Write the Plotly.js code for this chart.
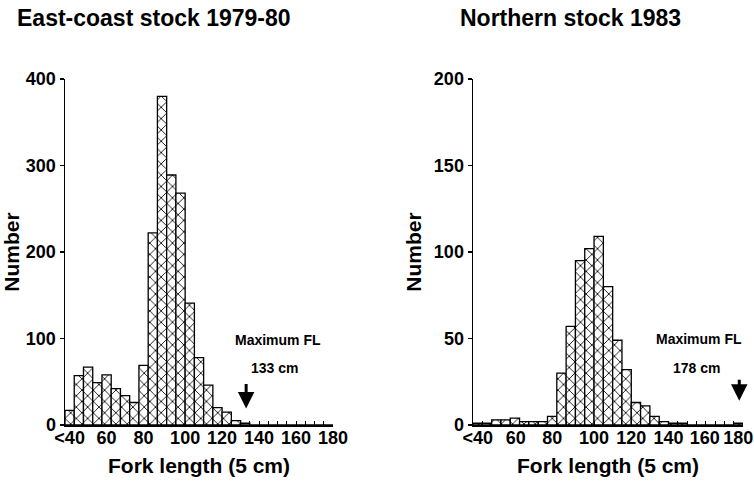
<!DOCTYPE html>
<html><head><meta charset="utf-8">
<script src="https://cdn.plot.ly/plotly-3.0.1.min.js"></script>
<style>html,body{margin:0;padding:0;background:#fff}</style>
</head><body><div id="chart" style="width:754px;height:488px"></div>
<script>
// Fork length bins (5 cm), bin centres in cm; first bin is "<40"
const binCenters = [37.5, 42.5, 47.5, 52.5, 57.5, 62.5, 67.5, 72.5, 77.5, 82.5,
  87.5, 92.5, 97.5, 102.5, 107.5, 112.5, 117.5, 122.5, 127.5, 132.5,
  137.5, 142.5, 147.5, 152.5, 157.5, 162.5, 167.5, 172.5, 177.5];

// East-coast stock 1979-80 (counts per bin)
const eastCoast = [17, 57, 67, 49, 58, 42, 34, 26, 69, 222,
  380, 289, 268, 141, 78, 46, 20, 15, 5, 2,
  0, 0, 0, 0, 0, 0, 0, 0, 0];

// Northern stock 1983 (counts per bin)
const northern = [1, 1, 3, 3, 4, 2, 2, 2, 5, 30,
  57, 95, 102, 109, 80, 49, 32, 13, 11, 5,
  2, 1, 1, 0, 0, 0, 0, 0, 1];

// tick label positions (cm) for the left and right panels
const tickValsLeft = [37.5, 57.5, 77.5, 100, 120, 140, 160, 180];
const tickValsRight = [37.5, 58, 77.5, 100, 120, 140, 159.5, 177.5];
const tickText = ['<40', '60', '80', '100', '120', '140', '160', '180'];

const titles = ['East-coast stock 1979-80', 'Northern stock 1983'];
const maxFL = [133, 178];
const maxFLText = ['133 cm', '178 cm'];

const FONT = 'Liberation Sans, Arial, Helvetica, sans-serif';
const pattern = {shape: 'x', size: 8, solidity: 0.2, fgcolor: '#000', bgcolor: '#fff', fillmode: 'replace'};

function barTrace(y, xa, ya) {
  return {type: 'bar', x: binCenters, y: y, xaxis: xa, yaxis: ya,
    width: 5, marker: {color: '#fff', pattern: pattern, line: {color: '#000', width: 1.3}},
    showlegend: false, hoverinfo: 'x+y'};
}

const data = [
  barTrace(eastCoast, 'x', 'y'),
  barTrace(northern, 'x2', 'y2'),
  {type: 'scatter', x: [], y: [], xaxis: 'x3', yaxis: 'y', showlegend: false},
  {type: 'scatter', x: [], y: [], xaxis: 'x4', yaxis: 'y2', showlegend: false}
];

const tickFont = {family: FONT, size: 18, color: '#000', weight: 'bold'};
const titleFont = {family: FONT, size: 21, color: '#000', weight: 'bold'};

function baseX(domain, anchor) {
  return {domain: domain, anchor: anchor, range: [35, 180], showline: true, linecolor: '#000', linewidth: 1.5,
    ticks: 'inside', ticklen: 4, tickwidth: 1, tickcolor: '#000', tickmode: 'linear', tick0: 35, dtick: 5,
    showticklabels: false, showgrid: false, zeroline: false, fixedrange: true};
}
function labelX(over, anchor, vals) {
  return {overlaying: over, anchor: anchor, range: [35, 180.01], tickmode: 'array', tickvals: vals,
    ticktext: tickText, ticks: '', showline: false, showgrid: false, zeroline: false,
    tickfont: tickFont, fixedrange: true, ticklabeloverflow: 'allow',
    title: {text: 'Fork length (5 cm)', font: titleFont, standoff: 11}};
}
function baseY(domain, anchor, range, dtick) {
  return {domain: domain, anchor: anchor, range: range, dtick: dtick, tick0: 0, showline: true,
    linecolor: '#000', linewidth: 1.5, ticks: 'outside', ticklen: 4, tickwidth: 1.2, tickcolor: '#000',
    showgrid: false, zeroline: false, tickfont: tickFont, fixedrange: true,
    title: {text: 'Number', font: titleFont, standoff: 6}};
}

const annFont = {family: FONT, size: 14, color: '#000', weight: 'bold'};
const annotations = [
  {text: titles[0], xref: 'paper', yref: 'paper', x: -0.0737, y: 1.177, xanchor: 'left', yanchor: 'middle',
    showarrow: false, font: {family: FONT, size: 23, color: '#000', weight: 'bold'}},
  {text: titles[1], xref: 'paper', yref: 'paper', x: 0.5796, y: 1.177, xanchor: 'left', yanchor: 'middle',
    showarrow: false, font: {family: FONT, size: 23, color: '#000', weight: 'bold'}},
  {text: 'Maximum FL', xref: 'x', yref: 'y', x: 150, y: 98, showarrow: false, font: annFont},
  {text: maxFLText[0], xref: 'x', yref: 'y', x: 148.3, y: 66, showarrow: false, font: annFont},
  {text: '', xref: 'x', yref: 'y', x: maxFL[0], y: 19, axref: 'x', ayref: 'y', ax: maxFL[0], ay: 49,
    showarrow: true, arrowhead: 2, arrowsize: 1.1, arrowwidth: 3, arrowcolor: '#000'},
  {text: 'Maximum FL', xref: 'x2', yref: 'y2', x: 156.3, y: 50, showarrow: false, font: annFont},
  {text: maxFLText[1], xref: 'x2', yref: 'y2', x: 155.2, y: 33, showarrow: false, font: annFont},
  {text: '', xref: 'x2', yref: 'y2', x: maxFL[1], y: 14, axref: 'x2', ayref: 'y2', ax: maxFL[1], ay: 27,
    showarrow: true, arrowhead: 2, arrowsize: 1.1, arrowwidth: 3, arrowcolor: '#000'}
];

const layout = {
  width: 754, height: 488,
  margin: {l: 65, r: 11, t: 79, b: 63},
  paper_bgcolor: '#fff', plot_bgcolor: '#fff',
  bargap: 0,
  xaxis: baseX([0, 0.3953], 'y'),
  xaxis2: baseX([0.6018, 1], 'y2'),
  xaxis3: labelX('x', 'y', tickValsLeft),
  xaxis4: labelX('x2', 'y2', tickValsRight),
  yaxis: baseY([0, 1], 'x', [0, 400], 100),
  yaxis2: baseY([0, 1], 'x2', [0, 200], 50),
  annotations: annotations,
  font: {family: FONT, color: '#000'}
};

Plotly.newPlot('chart', data, layout, {displayModeBar: false, staticPlot: true});
</script>
</body></html>
